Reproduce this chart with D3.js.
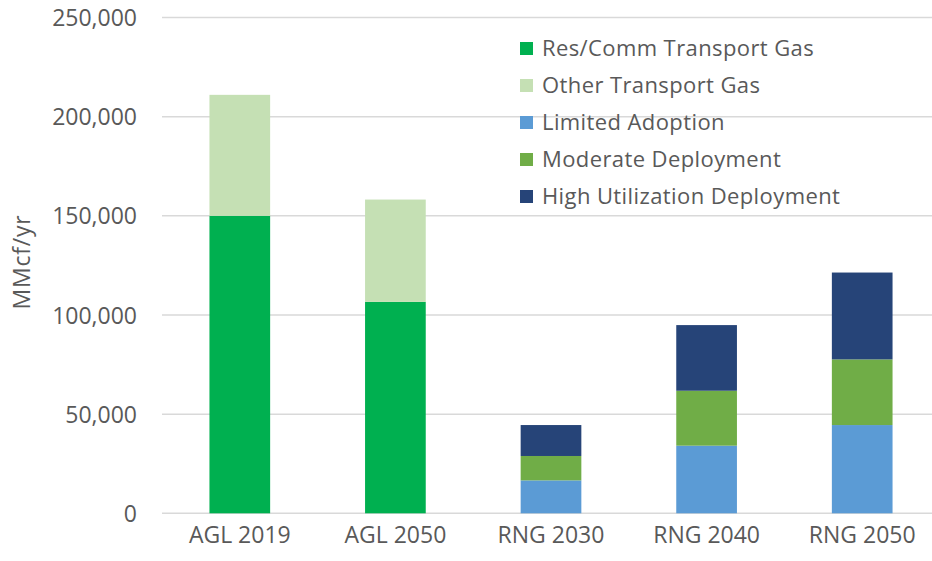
<!DOCTYPE html>
<html>
<head>
<meta charset="utf-8">
<script src="https://cdn.jsdelivr.net/npm/d3@7"></script>
<style>
    body { margin: 0; background: #fff; }
    svg text { font-family: 'Open Sans', sans-serif; fill: #595959; }
</style>
</head>
<body>
<svg id="chart" width="932" height="561"></svg>
<script>
const categories = ['AGL 2019', 'AGL 2050', 'RNG 2030', 'RNG 2040', 'RNG 2050'];
const seriesNames = [
    'Res/Comm Transport Gas',
    'Other Transport Gas',
    'Limited Adoption',
    'Moderate Deployment',
    'High Utilization Deployment'
];
const resComm = [150000, 106600, 0, 0, 0];
const otherTransport = [61000, 51600, 0, 0, 0];
const limitedAdoption = [0, 0, 16600, 34100, 44500];
const moderateDeployment = [0, 0, 12300, 27700, 33100];
const highUtilization = [0, 0, 15600, 33100, 43800];
const yTicks = [0, 50000, 100000, 150000, 200000, 250000];
const colors = ['#00b050', '#c5e0b4', '#5b9bd5', '#70ad47', '#264478'];

const svg = d3.select('#chart');

const x = d3.scaleBand()
    .domain(categories)
    .range([162, 940])
    .paddingInner(0.61)
    .paddingOuter(0.305);

const y = d3.scaleLinear()
    .domain([0, 250000])
    .range([513.3, 17.5]);

// table for the stack
const rows = categories.map((c, i) => ({
    cat: c,
    s0: resComm[i],
    s1: otherTransport[i],
    s2: limitedAdoption[i],
    s3: moderateDeployment[i],
    s4: highUtilization[i]
}));
const stacked = d3.stack().keys(['s0', 's1', 's2', 's3', 's4'])(rows);

// gridlines
svg.append('g')
    .selectAll('line')
    .data(yTicks)
    .enter()
    .append('line')
    .attr('x1', 162)
    .attr('x2', 932)
    .attr('y1', d => y(d))
    .attr('y2', d => y(d))
    .attr('stroke', '#d9d9d9')
    .attr('stroke-width', 1.5);

// y axis labels
const yAxis = svg.append('g')
    .attr('transform', 'translate(162,0)')
    .call(d3.axisLeft(y).tickValues(yTicks).tickFormat(d3.format(',')).tickSize(0).tickPadding(25));
yAxis.select('.domain').remove();
yAxis.selectAll('text')
    .attr('font-size', '23px')
    .attr('font-family', 'Open Sans, sans-serif')
    .attr('fill', '#595959')
    .attr('dy', '0.35em');

// x axis labels
const xAxis = svg.append('g')
    .attr('transform', 'translate(0,513.3)')
    .call(d3.axisBottom(x).tickSize(0).tickPadding(13));
xAxis.select('.domain').remove();
xAxis.selectAll('text')
    .attr('font-size', '23px')
    .attr('font-family', 'Open Sans, sans-serif')
    .attr('fill', '#595959');

// bars
svg.append('g')
    .selectAll('g')
    .data(stacked)
    .enter()
    .append('g')
    .attr('fill', (d, i) => colors[i])
    .selectAll('rect')
    .data(d => d.filter(p => p[1] > p[0]))
    .enter()
    .append('rect')
    .attr('x', d => x(d.data.cat))
    .attr('width', x.bandwidth())
    .attr('y', d => y(d[1]))
    .attr('height', d => y(d[0]) - y(d[1]));

// y title
svg.append('text')
    .attr('transform', 'translate(30,262) rotate(-90)')
    .attr('text-anchor', 'middle')
    .attr('font-size', '23px')
    .attr('letter-spacing', '0.8px')
    .text('MMcf/yr');

// legend
const legend = svg.append('g')
    .selectAll('g')
    .data(seriesNames)
    .enter()
    .append('g')
    .attr('transform', (d, i) => `translate(520,${48.5 + i * 37})`);

legend.append('rect')
    .attr('x', 0)
    .attr('y', -6.5)
    .attr('width', 13)
    .attr('height', 13)
    .attr('fill', (d, i) => colors[i]);

legend.append('text')
    .attr('x', 22)
    .attr('dy', '0.35em')
    .attr('font-size', '22px')
    .attr('letter-spacing', '0.4px')
    .text(d => d);
</script>
</body>
</html>
